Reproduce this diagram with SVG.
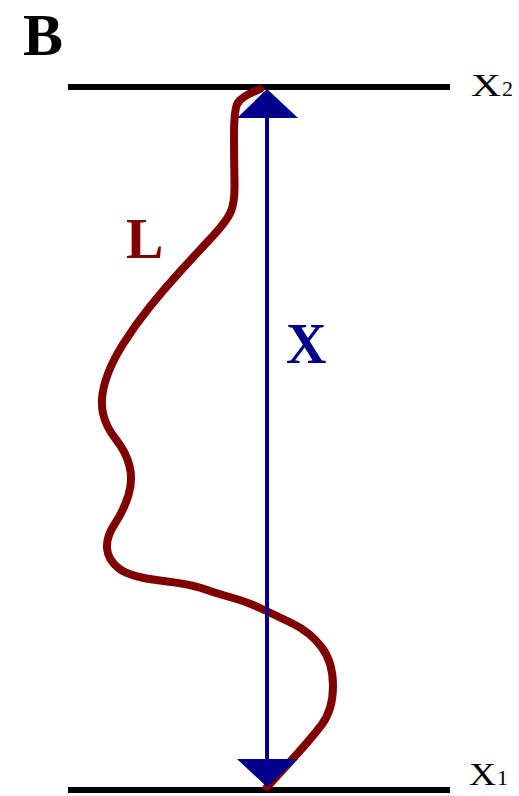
<svg xmlns="http://www.w3.org/2000/svg" width="519" height="796" viewBox="0 0 519 796">
<style>
.lvl{stroke:#000;stroke-width:6;}
.curve{fill:none;stroke:#800000;stroke-width:8;stroke-linejoin:round;stroke-linecap:round;}
.shaft{stroke:#00008B;stroke-width:4;}
.head{fill:#00008B;}
.serif{font-family:"Liberation Serif","Times New Roman",serif;}
</style>
<rect width="519" height="796" fill="#fff"/>
<text class="serif" x="23" y="55" font-size="60" font-weight="bold" fill="#000">B</text>
<g id="boundary-x2">
<line class="lvl" x1="68" y1="87" x2="450" y2="87"/>
<text class="serif" x="471" y="96" font-size="32" fill="#000" textLength="30" lengthAdjust="spacingAndGlyphs">X</text>
<text class="serif" x="502" y="96" font-size="22" fill="#000">2</text>
</g>
<g id="boundary-x1">
<line class="lvl" x1="68" y1="790" x2="450" y2="790"/>
<text class="serif" x="469" y="785" font-size="32" fill="#000" textLength="27" lengthAdjust="spacingAndGlyphs">X</text>
<text class="serif" x="497" y="785" font-size="22" fill="#000">1</text>
</g>
<g id="path-L">
<path class="curve" d="M260,89 Q240,97 237,104.5 Q234,112 234,136 Q234,160 234.5,181.5 Q235,203 230.5,212.5 Q226,222 211.5,237.5 Q197,253 181,270.5 Q165,288 150,306.5 Q135,325 122.5,345 Q110,365 105,382.5 Q100,400 103,413.5 Q106,427 116,439.5 Q126,452 129.5,466 Q133,480 128.5,495 Q124,510 115,523.5 Q106,537 107,548.5 Q108,560 119,568.5 Q130,577 160,580.5 Q190,584 204,589 Q218,594 231.5,597.5 Q245,601 260,608 Q275,615 292.5,623.5 Q310,632 321.5,647 Q333,662 333,686 Q333,710 321.5,725 Q310,740 288.5,763.5 L267,787"/>
<text class="serif" x="126" y="258" font-size="56" font-weight="bold" fill="#800000">L</text>
</g>
<g id="connectors">
<line class="shaft" x1="267" y1="110" x2="267" y2="765"/>
<polygon class="head" points="267,89 298,118 237,118"/>
<polygon class="head" points="267,787 298,759 237,759"/>
</g>
<g id="label-X">
<text class="serif" x="286" y="363" font-size="56" font-weight="bold" fill="#00008B">X</text>
</g>
</svg>
